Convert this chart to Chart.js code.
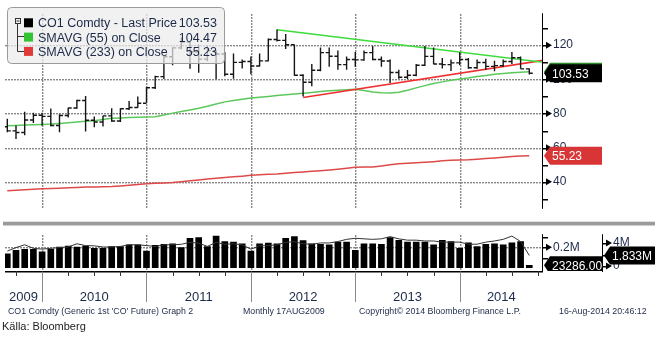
<!DOCTYPE html>
<html>
<head>
<meta charset="utf-8">
<script src="https://cdn.jsdelivr.net/npm/chart.js@4.4.1/dist/chart.umd.min.js"></script>
<style>
  html, body { margin: 0; padding: 0; background: #fff; }
  #wrap { position: relative; width: 655px; height: 343px; overflow: hidden; background: #fff; }
  canvas { position: absolute; left: 0; }
  #priceChart { top: 0; }
  #volChart { top: 221px; }
</style>
</head>
<body>
<div id="wrap">
  <canvas id="priceChart" width="655" height="222"></canvas>
  <canvas id="volChart" width="655" height="122"></canvas>
</div>
<script>
// Monthly bars, CO1 Comdty (Brent front month)
const months = [
  'Aug 2009', 'Sep 2009', 'Oct 2009', 'Nov 2009', 'Dec 2009',
  'Jan 2010', 'Feb 2010', 'Mar 2010', 'Apr 2010', 'May 2010', 'Jun 2010',
  'Jul 2010', 'Aug 2010', 'Sep 2010', 'Oct 2010', 'Nov 2010', 'Dec 2010',
  'Jan 2011', 'Feb 2011', 'Mar 2011', 'Apr 2011', 'May 2011', 'Jun 2011',
  'Jul 2011', 'Aug 2011', 'Sep 2011', 'Oct 2011', 'Nov 2011', 'Dec 2011',
  'Jan 2012', 'Feb 2012', 'Mar 2012', 'Apr 2012', 'May 2012', 'Jun 2012',
  'Jul 2012', 'Aug 2012', 'Sep 2012', 'Oct 2012', 'Nov 2012', 'Dec 2012',
  'Jan 2013', 'Feb 2013', 'Mar 2013', 'Apr 2013', 'May 2013', 'Jun 2013',
  'Jul 2013', 'Aug 2013', 'Sep 2013', 'Oct 2013', 'Nov 2013', 'Dec 2013',
  'Jan 2014', 'Feb 2014', 'Mar 2014', 'Apr 2014', 'May 2014', 'Jun 2014',
  'Jul 2014', 'Aug 2014'
];

const opens = [
  72.2, 69.8, 68.9, 76.2, 79.0,
  78.3, 73.0, 78.8, 83.2, 87.6, 76.0, 75.0, 78.6, 75.6, 82.8, 83.5, 86.0,
  95.1, 101.6, 113.2, 118.4, 121.8, 116.0, 111.8, 116.8, 114.8, 103.0, 109.9, 110.4,
  107.8, 110.8, 123.3, 122.8, 120.2, 102.4, 98.3, 105.3, 115.6, 113.5, 108.6, 111.6,
  111.4, 115.6, 111.6, 110.7, 104.0, 101.2, 102.4, 108.2, 113.4, 109.0, 108.6, 109.6,
  111.6, 106.8, 109.8, 107.6, 108.0, 110.4, 112.6, 106.1
];
const highs = [
  76.9, 73.0, 81.0, 80.4, 80.4,
  82.9, 79.5, 83.4, 88.0, 90.2, 78.2, 78.7, 83.0, 83.0, 87.3, 89.9, 95.5,
  102.1, 113.8, 118.8, 124.5, 122.3, 120.4, 119.5, 117.0, 116.0, 115.1, 111.6, 113.4,
  115.1, 123.9, 129.1, 126.5, 120.4, 103.0, 109.0, 118.6, 118.6, 116.9, 113.4, 116.0,
  116.9, 119.5, 113.4, 111.6, 105.6, 105.5, 109.0, 119.5, 118.6, 112.5, 111.6, 115.8,
  112.5, 111.6, 112.0, 110.8, 111.6, 116.0, 113.4, 106.4
];
const lows = [
  69.0, 65.0, 67.3, 74.4, 72.8,
  72.5, 69.0, 77.6, 82.8, 69.5, 72.0, 72.4, 75.1, 75.0, 82.1, 83.4, 86.4,
  94.3, 100.2, 108.2, 117.6, 106.2, 103.8, 110.5, 100.0, 101.8, 100.4, 106.4, 103.0,
  107.5, 110.5, 122.1, 117.8, 102.1, 89.9, 96.0, 104.7, 107.3, 105.6, 105.6, 107.3,
  110.8, 111.2, 107.3, 97.8, 100.4, 100.2, 101.8, 107.8, 108.8, 106.4, 104.8, 108.2,
  106.2, 106.2, 105.4, 104.7, 107.2, 109.0, 106.2, 102.8
];
const closes = [
  69.8, 68.9, 76.2, 79.0, 78.3,
  73.0, 78.8, 83.2, 87.6, 76.0, 75.0, 78.6, 75.6, 82.8, 83.5, 86.0, 95.1,
  101.6, 113.2, 118.4, 121.8, 116.0, 111.8, 116.8, 114.8, 103.0, 109.9, 110.4, 107.8,
  110.8, 123.3, 122.8, 120.2, 102.4, 98.3, 105.3, 115.6, 113.5, 108.6, 111.6, 111.4,
  115.6, 111.6, 110.7, 104.0, 101.2, 102.4, 108.2, 113.4, 109.0, 108.6, 109.6, 111.6,
  106.8, 109.8, 107.6, 108.0, 110.4, 112.6, 106.1, 103.53
];

// simple moving averages on close
const sma55 = [
  72.8, 73.0, 73.2, 73.4, 73.6,
  73.8, 74.2, 74.6, 75.0, 75.4, 75.8, 76.5, 77.2, 77.4, 77.6, 77.8, 78.0,
  78.1, 79.1, 80.2, 81.1, 82.0, 83.0, 84.2, 85.5, 86.8, 87.6, 88.3, 89.0,
  89.5, 90.0, 90.5, 90.9, 91.4, 91.8, 92.3, 92.8, 93.3, 93.6, 93.9, 94.2,
  93.4, 92.6, 92.2, 92.0, 92.4, 93.6, 95.0, 96.3, 97.5, 98.5, 99.5, 100.2,
  100.8, 101.6, 102.3, 102.9, 103.4, 103.9, 104.2, 104.47
];
const sma233 = [
  34.7, 35.0, 35.3, 35.6, 35.9,
  36.1, 36.3, 36.5, 36.7, 36.9, 37.0, 37.1, 37.2, 37.6, 38.0, 38.4, 38.9,
  39.1, 39.3, 39.6, 40.1, 40.6, 41.1, 41.6, 42.1, 42.5, 42.9, 43.3, 43.8,
  44.1, 44.4, 44.6, 45.0, 45.4, 45.8, 46.2, 46.5, 46.9, 47.4, 47.9, 48.5,
  48.7, 48.7, 49.3, 50.0, 50.6, 50.9, 51.1, 51.4, 51.8, 52.3, 52.6, 52.8,
  52.9, 53.2, 53.6, 54.0, 54.4, 54.8, 55.1, 55.23
];

// hand-drawn trend lines (bar index, price)
const resistIdx = [31, 61.6];
const resistPrice = [129.0, 110.0];
const supportIdx = [34, 61.6];
const supportPrice = [89.4, 111.1];

// volume (contracts) and open interest (millions)
const volume = [
  136000, 171000, 181000, 181000, 155000,
  181000, 203000, 213000, 203000, 213000, 189000, 189000, 208000, 208000, 224000, 224000, 163000,
  219000, 229000, 235000, 197000, 288000, 296000, 208000, 309000, 256000, 251000, 235000, 163000,
  235000, 240000, 235000, 288000, 304000, 265000, 235000, 229000, 224000, 251000, 251000, 171000,
  235000, 235000, 229000, 296000, 269000, 251000, 251000, 251000, 224000, 269000, 256000, 189000,
  243000, 208000, 229000, 235000, 224000, 243000, 256000, 23286
];
const openInterest = [
  2.59, 3.20, 3.68, 3.07, 2.93,
  3.07, 3.20, 3.30, 3.86, 3.54, 3.50, 3.30, 3.30, 3.40, 3.68, 3.68, 3.54,
  3.40, 3.68, 3.68, 3.77, 4.10, 3.96, 3.40, 4.10, 3.77, 3.86, 3.68, 2.93,
  3.50, 3.54, 3.68, 4.10, 4.20, 3.86, 3.77, 4.00, 4.00, 4.24, 4.62, 4.81,
  4.71, 4.62, 4.71, 5.09, 4.71, 4.48, 4.48, 4.34, 4.34, 4.14, 4.14, 4.14,
  3.78, 3.78, 4.14, 4.34, 4.62, 5.19, 4.24, 1.833
];

// axis ticks
const priceTicks = [30, 40, 50, 60, 70, 80, 90, 100, 110, 120, 130];
const priceLabelled = [40, 60, 80, 100, 120];
const volTicks = [100000, 200000, 300000];
const oiTicks = [0, 2, 4];
const years = ['2009', '2010', '2011', '2012', '2013', '2014'];

const FONT = '"Liberation Sans", Arial, Helvetica, sans-serif';
const INK = '#1c2a48';
const GRID = '#888888';
const X_MIN = -0.264, X_MAX = 61.575;
const TICK = 0.4;

Chart.defaults.font.family = FONT;

const last = a => a[a.length - 1];
const yearEnds = months.map((m, i) => m.startsWith('Dec') ? i : -1).filter(i => i >= 0);
const quarterTicks = [];
for (let v = 1; v <= X_MAX; v += 3) quarterTicks.push(v);

// OHLC bars as broken line segments: high-low stem, open tick left, close tick right
const stems = [], openTicks = [], closeTicks = [];
months.forEach((m, i) => {
    stems.push({ x: i, y: lows[i] }, { x: i, y: highs[i] }, { x: i, y: null });
    openTicks.push({ x: i - TICK, y: opens[i] }, { x: i, y: opens[i] }, { x: i, y: null });
    closeTicks.push({ x: i, y: closes[i] }, { x: i + TICK, y: closes[i] }, { x: i, y: null });
});

function seg(data, color, width) {
    return { type: 'line', data: data, borderColor: color, borderWidth: width, pointRadius: 0, spanGaps: false };
}

function marker(ctx, x, y) {
    ctx.fillStyle = '#000';
    ctx.beginPath();
    ctx.moveTo(x + 3, y - 3.5);
    ctx.lineTo(x + 9, y);
    ctx.lineTo(x + 3, y + 3.5);
    ctx.closePath();
    ctx.fill();
}

function tag(ctx, x0, x1, y, fill, text) {
    const h = 9;
    ctx.save();
    ctx.fillStyle = fill;
    ctx.beginPath();
    ctx.moveTo(x0 + 1, y);
    ctx.lineTo(x0 + 7, y - h);
    ctx.lineTo(x1, y - h);
    ctx.lineTo(x1, y + h);
    ctx.lineTo(x0 + 7, y + h);
    ctx.closePath();
    ctx.fill();
    if (text) {
        ctx.fillStyle = '#fff';
        ctx.font = '12px ' + FONT;
        ctx.textAlign = 'left';
        ctx.textBaseline = 'middle';
        ctx.fillText(text, x0 + 9, y + 1);
    }
    ctx.restore();
}

// crisp rules drawn as filled rectangles
function vline(ctx, x, y0, y1, color) {
    ctx.fillStyle = color;
    ctx.fillRect(Math.round(x), y0, 1, y1 - y0);
}

function hline(ctx, x0, x1, y, color, w) {
    ctx.fillStyle = color;
    ctx.fillRect(x0, Math.round(y), x1 - x0, w || 1);
}

// dotted grid for one panel: horizontal levels on the given scale, year lines on x
function dottedGrid(chart, yScale, levels) {
    const { ctx, chartArea: a, scales: { x } } = chart;
    ctx.save();
    ctx.fillStyle = GRID;
    levels.forEach(v => {
        const py = Math.round(yScale.getPixelForValue(v));
        for (let px = Math.ceil(a.left); px < a.right; px += 3) ctx.fillRect(px, py, 2, 1.4);
    });
    yearEnds.forEach(e => {
        const px = Math.round(x.getPixelForValue(e));
        for (let py = Math.ceil(a.top); py < a.bottom; py += 3) ctx.fillRect(px, py, 1.4, 2);
    });
    ctx.restore();
}

function drawLegend(ctx) {
    ctx.save();
    ctx.beginPath();
    ctx.roundRect(7.5, 7.5, 217, 56, 4);
    ctx.fillStyle = 'rgba(236,236,236,0.72)';
    ctx.fill();
    ctx.strokeStyle = '#9a9a9a';
    ctx.lineWidth = 1;
    ctx.stroke();

    // tree connector
    ctx.strokeStyle = '#333';
    ctx.strokeRect(15.5, 18.5, 5, 5);
    ctx.beginPath();
    ctx.moveTo(16.5, 21); ctx.lineTo(19.5, 21);
    ctx.moveTo(17.5, 23.5); ctx.lineTo(17.5, 51.5);
    ctx.moveTo(17.5, 36.5); ctx.lineTo(24, 36.5);
    ctx.moveTo(17.5, 51.5); ctx.lineTo(24, 51.5);
    ctx.stroke();

    const rows = [
        ['#000', 'CO1 Comdty - Last Price', last(closes)],
        ['#33c433', 'SMAVG (55) on Close', last(sma55)],
        ['#e03a3a', 'SMAVG (233) on Close', last(sma233)]
    ];
    ctx.font = '12.5px ' + FONT;
    ctx.textBaseline = 'alphabetic';
    rows.forEach((r, k) => {
        const top = 18.3 + k * 14.3;
        ctx.fillStyle = r[0];
        ctx.fillRect(24, top, 9, 9);
        ctx.fillStyle = INK;
        ctx.textAlign = 'left';
        ctx.fillText(r[1], 38, top + 9);
        ctx.textAlign = 'right';
        ctx.fillText(r[2].toFixed(2), 217, top + 9);
    });
    ctx.restore();
}

const pricePlugin = {
    id: 'priceDecor',
    beforeDatasetsDraw(chart) {
        dottedGrid(chart, chart.scales.y, priceLabelled);
    },
    afterDraw(chart) {
        const { ctx, chartArea: a, scales: { y } } = chart;
        ctx.save();
        vline(ctx, a.right - 1, a.top, a.bottom, '#000');
        priceTicks.forEach(v => hline(ctx, a.right, a.right + 5, y.getPixelForValue(v), '#000', 1.5));
        priceLabelled.forEach(v => marker(ctx, a.right, y.getPixelForValue(v)));
        drawLegend(ctx);
        tag(ctx, a.right, 602, y.getPixelForValue(last(sma55)), '#2a8a2a', '');
        tag(ctx, a.right, 602, y.getPixelForValue(last(closes)), '#000', last(closes).toFixed(2));
        tag(ctx, a.right, 602, y.getPixelForValue(last(sma233)), '#d83636', last(sma233).toFixed(2));
        ctx.restore();
    }
};

new Chart(document.getElementById('priceChart').getContext('2d'), {
    type: 'line',
    data: {
        datasets: [
            seg(stems, '#151515', 1.4),
            seg(openTicks, '#151515', 1.4),
            seg(closeTicks, '#151515', 1.4),
            seg(resistIdx.map((v, i) => ({ x: v, y: resistPrice[i] })), '#3ddc3d', 1.5),
            seg(supportIdx.map((v, i) => ({ x: v, y: supportPrice[i] })), '#f03030', 1.5),
            seg(sma55.map((v, i) => ({ x: i, y: v })), '#5cc85c', 1.5),
            seg(sma233.map((v, i) => ({ x: i, y: v })), '#dd4a4a', 1.5)
        ]
    },
    options: {
        responsive: false,
        animation: false,
        devicePixelRatio: 1,
        events: [],
        layout: { padding: { left: 5, top: 5, right: 0, bottom: 0 } },
        plugins: { legend: { display: false }, tooltip: { enabled: false } },
        scales: {
            x: {
                type: 'linear', min: X_MIN, max: X_MAX, bounds: 'data', offset: false,
                afterBuildTicks: s => { s.ticks = yearEnds.map(v => ({ value: v })); },
                afterFit: s => { s.height = 0; },
                ticks: { display: false },
                border: { display: false },
                grid: { display: false, drawTicks: false, offset: false }
            },
            y: {
                position: 'right', min: 24.2, max: 138.7, bounds: 'data',
                afterBuildTicks: s => { s.ticks = priceTicks.map(v => ({ value: v })); },
                afterFit: s => { s.width = 112; },
                border: { display: false },
                grid: { display: false, drawTicks: true, tickLength: 4 },
                ticks: {
                    padding: 6, color: INK, font: { size: 12 },
                    callback: v => priceLabelled.includes(v) ? String(v) : ''
                }
            }
        }
    },
    plugins: [pricePlugin]
});

const volPlugin = {
    id: 'volDecor',
    beforeDatasetsDraw(chart) {
        dottedGrid(chart, chart.scales.yVol, [200000]);
    },
    afterDraw(chart) {
        const { ctx, chartArea: a, scales: { x, yVol, yOI } } = chart;
        ctx.save();
        // panel separator
        ctx.fillStyle = '#9b9b9b';
        ctx.fillRect(3, 0.7, 652, 3.8);

        vline(ctx, a.right - 1, a.top, a.bottom + 1, '#000');
        vline(ctx, yOI.left - 1, a.top, a.bottom + 1, '#000');
        hline(ctx, a.left, a.right, a.bottom, '#000', 1.5);
        quarterTicks.forEach(q => vline(ctx, x.getPixelForValue(q), a.bottom, a.bottom + 5, '#333'));

        volTicks.forEach(v => hline(ctx, a.right, a.right + 5, yVol.getPixelForValue(v), '#000', 1.5));
        oiTicks.forEach(v => hline(ctx, yOI.left, yOI.left + 5, yOI.getPixelForValue(v), '#000', 1.5));
        marker(ctx, a.right, yVol.getPixelForValue(200000));
        marker(ctx, yOI.left, yOI.getPixelForValue(4));
        marker(ctx, yOI.left, yOI.getPixelForValue(0));

        // last value tags, clipped to the panel height
        ctx.save();
        ctx.beginPath();
        ctx.rect(a.right, a.top, 200, a.bottom - a.top);
        ctx.clip();
        tag(ctx, a.right, yOI.left, yVol.getPixelForValue(last(volume)), '#000', last(volume).toFixed(2));
        ctx.restore();
        tag(ctx, yOI.left, 655, yOI.getPixelForValue(last(openInterest)), '#000', last(openInterest).toFixed(3) + 'M');

        // year separators and labels
        yearEnds.forEach(e => vline(ctx, x.getPixelForValue(e), a.bottom + 1, a.bottom + 31, '#8a8a8a'));
        const bounds = [X_MIN].concat(yearEnds, [X_MAX]);
        ctx.fillStyle = INK;
        ctx.font = '13px ' + FONT;
        ctx.textAlign = 'center';
        ctx.textBaseline = 'alphabetic';
        years.forEach((yr, k) => {
            ctx.fillText(yr, x.getPixelForValue((bounds[k] + bounds[k + 1]) / 2), a.bottom + 30);
        });

        ctx.font = '8.8px ' + FONT;
        ctx.textAlign = 'left';
        ctx.fillText("CO1 Comdty (Generic 1st 'CO' Future) Graph 2", 8, a.bottom + 43);
        ctx.fillText('Monthly 17AUG2009', 243, a.bottom + 43);
        ctx.fillText('Copyright\u00a9 2014 Bloomberg Finance L.P.', 359, a.bottom + 43);
        ctx.fillText('16-Aug-2014 20:46:12', 559, a.bottom + 43);

        ctx.fillStyle = '#222';
        ctx.font = '11px ' + FONT;
        ctx.fillText('Källa: Bloomberg', 2, a.bottom + 59);
        ctx.restore();
    }
};

new Chart(document.getElementById('volChart').getContext('2d'), {
    type: 'bar',
    data: {
        datasets: [
            {
                type: 'line', yAxisID: 'yOI', order: 1,
                data: openInterest.map((v, i) => ({ x: i, y: v })),
                borderColor: '#333', borderWidth: 1, pointRadius: 0
            },
            {
                type: 'bar', yAxisID: 'yVol', order: 2,
                data: volume.map((v, i) => ({ x: i, y: v })),
                backgroundColor: '#000', barThickness: 6
            }
        ]
    },
    options: {
        responsive: false,
        animation: false,
        devicePixelRatio: 1,
        events: [],
        layout: { padding: { left: 5, top: 5, right: 0, bottom: 68 } },
        plugins: { legend: { display: false }, tooltip: { enabled: false } },
        scales: {
            x: {
                type: 'linear', min: X_MIN, max: X_MAX, bounds: 'data', offset: false,
                afterBuildTicks: s => { s.ticks = quarterTicks.map(v => ({ value: v })); },
                afterFit: s => { s.height = 4; },
                ticks: { display: false },
                border: { display: false },
                grid: { display: false, drawTicks: false, offset: false }
            },
            yVol: {
                position: 'right', weight: 0, min: -32000, max: 328000, bounds: 'data',
                afterBuildTicks: s => { s.ticks = volTicks.map(v => ({ value: v })); },
                afterFit: s => { s.width = 60; },
                border: { display: false },
                grid: { display: false, drawTicks: true, tickLength: 4 },
                ticks: {
                    padding: 6, color: INK, font: { size: 12 },
                    callback: v => v === 200000 ? '0.2M' : ''
                }
            },
            yOI: {
                position: 'right', weight: 1, min: -0.848, max: 5.51, bounds: 'data',
                afterBuildTicks: s => { s.ticks = oiTicks.map(v => ({ value: v })); },
                afterFit: s => { s.width = 52; },
                border: { display: false },
                grid: { display: false, drawTicks: true, tickLength: 4 },
                ticks: {
                    padding: 6, color: INK, font: { size: 12 },
                    callback: v => v === 4 ? '4M' : (v === 0 ? '0' : '')
                }
            }
        }
    },
    plugins: [volPlugin]
});
</script>
</body>
</html>
